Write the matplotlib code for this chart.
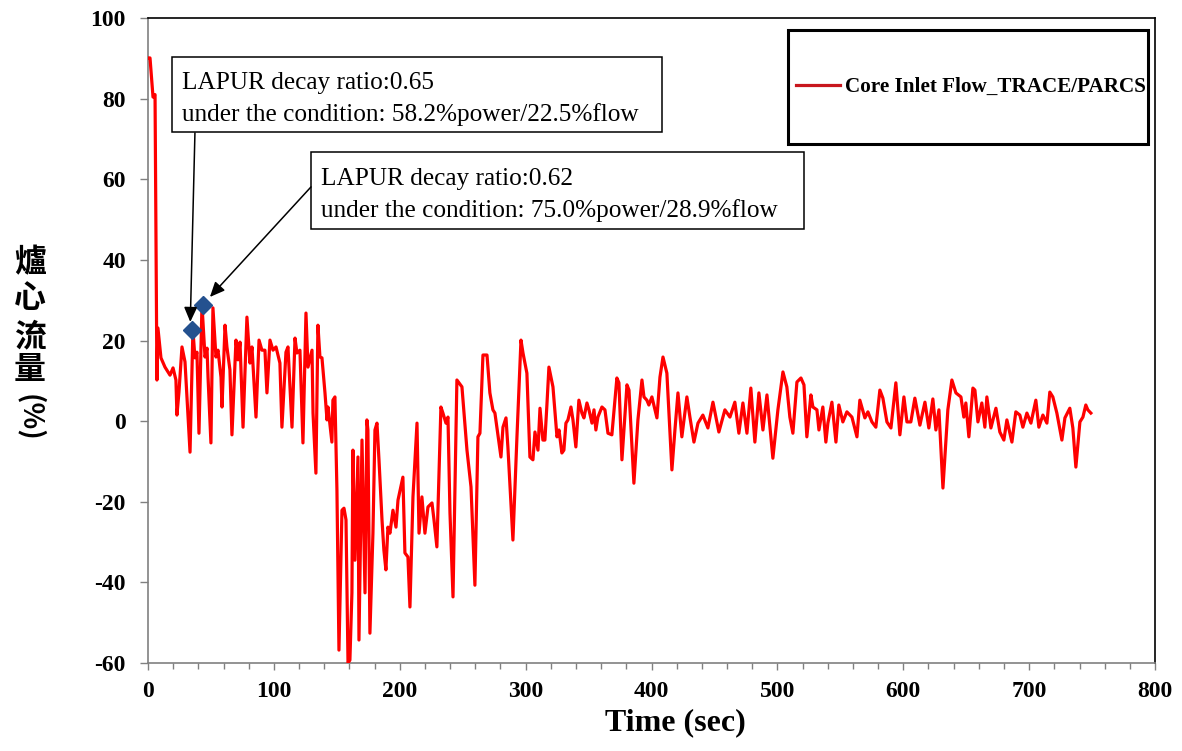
import matplotlib
matplotlib.use("Agg")
import matplotlib.pyplot as plt
from matplotlib.patches import Rectangle

plt.rcParams["axes.unicode_minus"] = False

# Core inlet flow trace (time in s, flow in %)
time_s = [
    0.0, 1.6, 4.0, 5.6, 7.1, 7.9, 10.3, 13.5, 17.5, 19.9, 22.2, 23.0, 24.6, 27.0, 29.4,
    33.4, 35.7, 37.3, 38.9, 40.5, 42.9, 45.3, 46.9, 47.7, 50.0, 51.6, 54.0, 55.6, 58.0,
    58.8, 61.2, 62.7, 65.1, 66.7, 69.9, 71.5, 73.1, 75.5, 78.6, 81.0, 82.6, 85.8, 88.2,
    90.5, 92.9, 94.5, 96.9, 99.3, 101.7, 104.8, 106.4, 109.6, 111.2, 114.4, 116.8, 118.3,
    120.7, 123.1, 125.5, 127.1, 130.3, 131.1, 133.4, 135.0, 136.6, 138.2, 140.6, 142.2,
    143.0, 146.1, 146.9, 148.5, 150.1, 151.7, 154.1, 155.7, 157.3, 158.9, 160.4, 162.0,
    162.8, 164.4, 166.8, 167.6, 170.0, 172.4, 173.9, 174.7, 176.3, 178.7, 180.3, 181.9,
    183.5, 185.9, 187.4, 189.0, 190.6, 192.2, 194.6, 197.0, 198.6, 202.5, 204.1, 206.5,
    208.1, 210.5, 213.7, 215.3, 217.6, 220.0, 222.4, 225.6, 227.2, 229.5, 232.7, 234.3,
    236.7, 238.3, 239.9, 242.3, 245.4, 249.4, 253.4, 256.6, 259.7, 262.1, 263.7, 266.1,
    269.3, 271.6, 274.0, 275.6, 280.4, 282.0, 284.4, 285.9, 289.9, 293.1, 296.3, 297.9,
    301.0, 303.4, 305.8, 307.4, 309.8, 311.4, 313.7, 315.3, 316.9, 318.5, 321.7, 324.9,
    326.5, 328.8, 330.4, 332.0, 333.6, 336.0, 337.6, 339.9, 342.3, 344.7, 346.3, 348.7,
    350.3, 352.7, 354.3, 355.8, 357.4, 360.6, 363.0, 365.4, 368.5, 372.5, 374.1, 376.5,
    380.5, 382.1, 386.0, 389.2, 392.4, 394.0, 396.3, 397.9, 400.3, 404.3, 406.7, 409.1,
    412.2, 416.2, 418.6, 421.0, 424.1, 428.1, 430.5, 433.7, 436.9, 440.8, 444.8, 448.8,
    453.5, 458.3, 462.3, 466.2, 469.4, 472.6, 475.8, 478.9, 482.1, 485.3, 488.5, 491.7,
    496.4, 500.4, 504.4, 507.5, 509.9, 512.3, 515.5, 518.7, 521.1, 523.4, 526.6, 528.2,
    531.4, 533.0, 536.1, 538.5, 540.1, 543.3, 546.5, 548.8, 552.0, 555.2, 559.2, 563.2,
    565.5, 569.5, 571.9, 575.1, 578.2, 581.4, 583.8, 587.0, 590.2, 594.1, 597.3, 600.5,
    602.9, 606.0, 609.2, 613.2, 617.2, 620.3, 623.5, 625.9, 628.3, 631.5, 635.4, 638.6,
    641.8, 645.8, 648.1, 649.7, 652.1, 655.3, 656.9, 659.3, 662.4, 664.8, 666.4, 669.6,
    673.6, 676.7, 679.9, 682.3, 686.3, 689.4, 692.6, 695.0, 698.2, 701.4, 705.3, 707.7,
    710.9, 714.1, 716.4, 718.8, 722.0, 726.0, 728.4, 732.3, 734.7, 737.1, 740.3, 742.7,
    745.0, 746.6, 749.0,
]
flow_pct = [
    90.1, 90.1, 80.4, 81.0, 10.2, 23.1, 15.7, 13.4, 11.4, 13.2, 10.2, 1.5, 7.2, 18.4, 14.7,
    -7.7, 22.6, 15.7, 17.1, -3.0, 28.8, 15.9, 18.1, 10.9, -5.4, 28.1, 15.9, 17.6, 10.9,
    3.5, 23.8, 18.4, 12.7, -3.4, 20.1, 15.2, 19.6, -1.5, 25.8, 14.4, 18.4, 1.0, 20.1,
    17.6, 17.6, 7.0, 20.1, 17.6, 18.4, 14.4, -1.5, 17.1, 18.4, -1.5, 20.6, 16.9,
    17.6, -5.4, 26.8, 13.4, 17.6, 2.0, -12.9, 23.8, 15.9, 15.7, 7.0, 0.3,
    3.5, -5.2, 5.2, 6.0, -17.1, -56.8, -22.1, -21.6, -24.5, -60.0, -59.3, -42.6,
    -7.2, -34.5, -8.9, -54.3, -4.7, -42.6, 0.3, -2.2, -52.6, -27.8, -2.2, -0.5,
    -9.6, -24.5, -32.0, -36.9, -26.3, -27.8, -22.1, -26.3, -19.6, -13.9, -32.7, -33.7,
    -46.1, -18.8, -0.5, -27.8, -18.8, -27.8, -21.3, -20.3, -24.5, -31.2, 3.5, 2.0,
    -0.5, 1.0, -22.8, -43.6, 10.2, 8.5, -7.2, -16.3, -40.7, -3.9, -3.0, 16.4,
    16.4, 7.0, 2.8, 2.0, -8.9, -1.5, 0.8, -6.4, -29.5, -3.9, 20.1, 16.9,
    11.9, -8.9, -9.6, -2.7, -7.2, 3.2, -4.7, -4.7, 4.0, 13.4, 8.5, -3.9,
    -2.2, -7.9, -7.2, -0.5, 0.3, 3.5, 0.3, -6.4, 5.2, 2.0, 0.8, 4.5,
    2.8, -0.5, 2.8, -2.2, 1.0, 3.5, 2.8, -3.0, -3.4, 10.7, 9.5, -9.6,
    9.0, 7.7, -15.4, 0.3, 10.2, 6.0, 5.2, 4.0, 6.0, 0.8, 10.9, 15.9,
    11.9, -12.1, -2.2, 7.0, -3.9, 6.0, 1.0, -5.2, -0.5, 1.5, -1.7, 4.7,
    -2.7, 2.8, 1.0, 4.7, -3.0, 4.5, -3.0, 8.2, -5.2, 7.0, -2.2, 6.5,
    -9.2, 2.8, 12.2, 8.5, 1.0, -3.0, 9.7, 10.7, 9.0, -3.9, 6.5, 3.5,
    2.8, -2.2, 3.5, -5.2, -0.5, 4.7, -5.2, 4.0, -0.2, 2.3, 1.0, -3.9,
    5.2, 0.8, 2.3, -0.2, -1.5, 7.7, 5.7, -0.2, -1.7, 9.5, -3.4, 6.0,
    -0.2, -0.2, 5.7, -1.0, 4.7, -1.7, 5.5, -2.2, 2.8, -16.6, 2.8, 10.2,
    7.0, 6.0, 1.0, 4.5, -3.9, 8.2, 7.7, -0.2, 4.5, -1.5, 6.0, -1.7,
    3.2, -2.7, -4.7, 0.3, -5.2, 2.3, 1.5, -1.5, 2.0, -0.5, 5.2, -1.5,
    1.5, -0.5, 7.2, 6.0, 2.0, -4.7, 0.8, 3.2, -1.7, -11.4, -0.2, 1.0,
    4.0, 2.8, 2.0,
]

# LAPUR reference points
lapur_time = [35.0, 43.7]
lapur_flow = [22.5, 28.9]
lapur_notes = [
    "LAPUR decay ratio:0.65\nunder the condition: 58.2%power/22.5%flow",
    "LAPUR decay ratio:0.62\nunder the condition: 75.0%power/28.9%flow",
]

x_ticks = [0, 100, 200, 300, 400, 500, 600, 700, 800]
y_ticks = [-60, -40, -20, 0, 20, 40, 60, 80, 100]

SERIF = "Liberation Serif"
CJK = "Noto Sans CJK TC"

fig = plt.figure(figsize=(11.82, 7.51), dpi=100)
ax = fig.add_axes([0.1252, 0.1172, 0.8520, 0.8588])

line, = ax.plot(time_s, flow_pct, color="#ff0000", linewidth=2.3,
                label="Core Inlet Flow_TRACE/PARCS", zorder=3)
ax.plot(lapur_time, lapur_flow, linestyle="none", marker="D", markersize=9,
        color="#24518f", zorder=5)

ax.set_xlim(0, 800)
ax.set_ylim(-60, 100)
ax.set_xticks(x_ticks)
ax.set_xticks(range(0, 801, 20), minor=True)
ax.set_yticks(y_ticks)
ax.tick_params(axis="x", which="major", direction="out", length=5, width=1,
               color="#808080", pad=8)
ax.tick_params(axis="x", which="minor", direction="out", length=4, width=1,
               color="#808080")
ax.tick_params(axis="y", direction="out", length=6, width=1, color="#808080", pad=10)
for label in ax.get_xticklabels() + ax.get_yticklabels():
    label.set_fontfamily(SERIF)
    label.set_fontweight("bold")
    label.set_fontsize(17)

for side in ("left", "bottom"):
    ax.spines[side].set_color("#808080")
    ax.spines[side].set_linewidth(1.2)
for side in ("top", "right"):
    ax.spines[side].set_color("black")
    ax.spines[side].set_linewidth(1.2)

ax.set_xlabel("Time (sec)", fontfamily=SERIF, fontweight="bold", fontsize=23)
ax.xaxis.set_label_coords(0.524, -0.07)

# vertical Chinese y label
for ch, yy in zip("爐心流量", [0.6498, 0.6019, 0.5513, 0.5073]):
    fig.text(0.0254, yy, ch, family=CJK, fontweight="heavy", fontsize=23,
             ha="center", va="center")
fig.text(0.0254, 0.4434, "(%)", family=CJK, fontweight="heavy", fontsize=20,
         rotation=-90, ha="center", va="center")

# annotation boxes
boxes = [(0.0238, 0.8233, 0.4866, 0.1162), (0.1619, 0.6729, 0.4895, 0.1193)]
for (bx, by, bw, bh), note in zip(boxes, lapur_notes):
    ax.add_patch(Rectangle((bx, by), bw, bh, transform=ax.transAxes,
                           facecolor="white", edgecolor="black", linewidth=1.1, zorder=6))
    ax.text(bx + 0.01, by + bh / 2 - 0.007, note, transform=ax.transAxes, fontfamily=SERIF,
            fontsize=18.2, ha="left", va="center", linespacing=1.55, zorder=7)

arrow_style = dict(arrowstyle="-|>,head_length=0.9,head_width=0.4", color="black",
                   linewidth=1.1, shrinkA=0, shrinkB=0)
ax.annotate("", xy=(33.6, 24.6), xytext=(37.3, 71.5), arrowprops=arrow_style, zorder=6)
ax.annotate("", xy=(49.2, 30.8), xytext=(129.5, 58.1), arrowprops=arrow_style, zorder=6)

# legend box
ax.add_patch(Rectangle((0.6356, 0.8047), 0.3574, 0.1767, transform=ax.transAxes,
                       facecolor="white", edgecolor="black", linewidth=2.2, zorder=6))
leg = ax.legend(handles=[line], loc="center left", bbox_to_anchor=(0.6435, 0.893),
                frameon=False, borderpad=0, borderaxespad=0, handlelength=2.1,
                handletextpad=0.2, prop={"family": SERIF, "weight": "bold", "size": 15.2})
leg.set_zorder(7)
leg.get_lines()[0].set_color("#c8161d")

fig.savefig("out.png", dpi=100)
